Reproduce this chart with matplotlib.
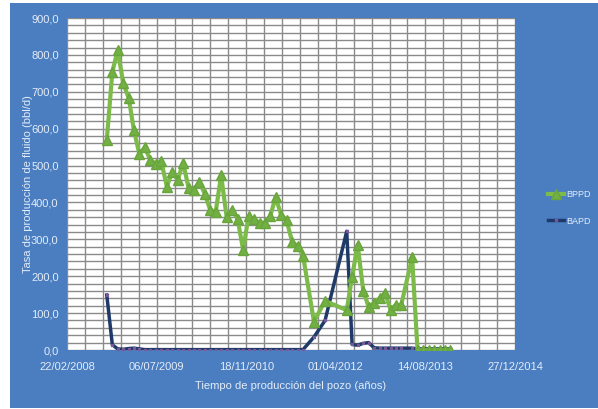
import matplotlib.pyplot as plt
import matplotlib.dates as mdates
from matplotlib.patches import Rectangle
from matplotlib.ticker import MultipleLocator, FuncFormatter
import numpy as np
import datetime as dt

plt.rcParams['font.family'] = ['Liberation Sans', 'DejaVu Sans']

# monthly production dates
fechas = ['2008-10-01', '2008-11-01', '2008-12-01', '2009-01-01', '2009-02-01', '2009-03-01',
          '2009-04-01', '2009-05-01', '2009-06-01', '2009-07-01', '2009-08-01', '2009-09-01',
          '2009-10-01', '2009-11-01', '2009-12-01', '2010-01-01', '2010-02-01', '2010-03-01',
          '2010-04-01', '2010-05-01', '2010-06-01', '2010-07-01', '2010-08-01', '2010-09-01',
          '2010-10-01', '2010-11-01', '2010-12-01', '2011-01-01', '2011-02-01', '2011-03-01',
          '2011-04-01', '2011-05-01', '2011-06-01', '2011-07-01', '2011-08-01', '2011-09-01',
          '2011-10-01', '2011-12-01', '2012-02-01', '2012-06-01', '2012-07-01', '2012-08-01',
          '2012-09-01', '2012-10-01', '2012-11-01', '2012-12-01', '2013-01-01', '2013-02-01',
          '2013-03-01', '2013-04-01', '2013-06-01', '2013-07-01', '2013-08-01', '2013-09-01',
          '2013-10-01', '2013-11-01', '2013-12-01', '2014-01-01']

bppd = [569, 754, 813, 723, 682, 596, 531, 549, 515, 505, 512, 443,
        483, 461, 508, 438, 435, 456, 423, 380, 375, 474, 360, 380,
        355, 271, 363, 354, 345, 345, 363, 414, 366, 352, 294, 281,
        256, 77, 133, 108, 199, 285, 161, 117, 127, 140, 155, 108,
        122, 122, 251, 0, 0, 0, 0, 0, 0, 0]

bapd = [149, 14, 3, 2, 4, 5, 3, 1, 1, 1, 1, 1,
        1, 1, 1, 1, 1, 1, 1, 1, 1, 1, 1, 1,
        1, 1, 1, 1, 1, 1, 1, 1, 1, 1, 1, 1,
        1, 35, 80, 322, 15, 13, 18, 20, 6, 5, 5, 5,
        5, 5, 5, 3, 3, 3, 3, 3, 3, 3]

x = [dt.datetime.strptime(f, '%Y-%m-%d') for f in fechas]

azul = '#4a7ec1'
texto = '#e4ecf7'

fig = plt.figure(figsize=(5.98, 4.09), dpi=100, facecolor='white')
fondo = Rectangle((10 / 598, 1 - 408 / 409), 588 / 598, 405 / 409,
                  transform=fig.transFigure, facecolor=azul, edgecolor='none', zorder=-5)
fig.add_artist(fondo)

ax = fig.add_axes([67 / 598, 1 - 350 / 409, 448 / 598, 332 / 409])
ax.set_zorder(1)
ax.set_facecolor('white')

ax.plot(x, bppd, color='#7cbb4a', lw=3, marker='^', ms=7.5, mfc='#72b043', mec='#68a53c',
        label='BPPD', zorder=3)
ax.plot(x, bapd, color='#1f3a68', lw=2.5, marker='x', ms=2, mec='#7a5a9a',
        label='BAPD', zorder=2)

x0 = dt.datetime(2008, 2, 22)
x1 = dt.datetime(2014, 12, 27)
ax.set_xlim(x0, x1)
ax.set_ylim(0, 900)

num0 = mdates.date2num(x0)
major_x = [num0 + 500 * i for i in range(6)]
minor_x = [num0 + 100 * i for i in range(26)]
ax.set_xticks(major_x)
ax.set_xticks(minor_x, minor=True)
ax.xaxis.set_major_formatter(mdates.DateFormatter('%d/%m/%Y'))

ax.yaxis.set_major_locator(MultipleLocator(100))
ax.yaxis.set_minor_locator(MultipleLocator(20))
ax.yaxis.set_major_formatter(FuncFormatter(lambda v, p: f'{v:.1f}'.replace('.', ',')))

ax.grid(which='both', color='#8a8a8a', lw=1.0)
ax.set_axisbelow(True)
ax.tick_params(which='both', length=0, colors=texto, labelsize=8)
ax.tick_params(axis='x', pad=9)
ax.tick_params(axis='y', pad=6)
for s in ax.spines.values():
    s.set_visible(False)

ax.set_xlabel('Tiempo de producción del pozo (años)', color=texto, fontsize=8, labelpad=6)
ax.set_ylabel('Tasa de producción de fluido (bbl/d)', color=texto, fontsize=8)
ax.yaxis.set_label_coords(-0.075, 0.5)

leg = ax.legend(loc='center left', bbox_to_anchor=(548 / 598, 1 - 208 / 409),
                bbox_transform=fig.transFigure, frameon=False, fontsize=6.5,
                labelspacing=1.9, handlelength=1.8, handletextpad=0.2, borderaxespad=0,
                borderpad=0, numpoints=1)
for t in leg.get_texts():
    t.set_color(texto)

fig.savefig('out.png', dpi=100, facecolor='white')
